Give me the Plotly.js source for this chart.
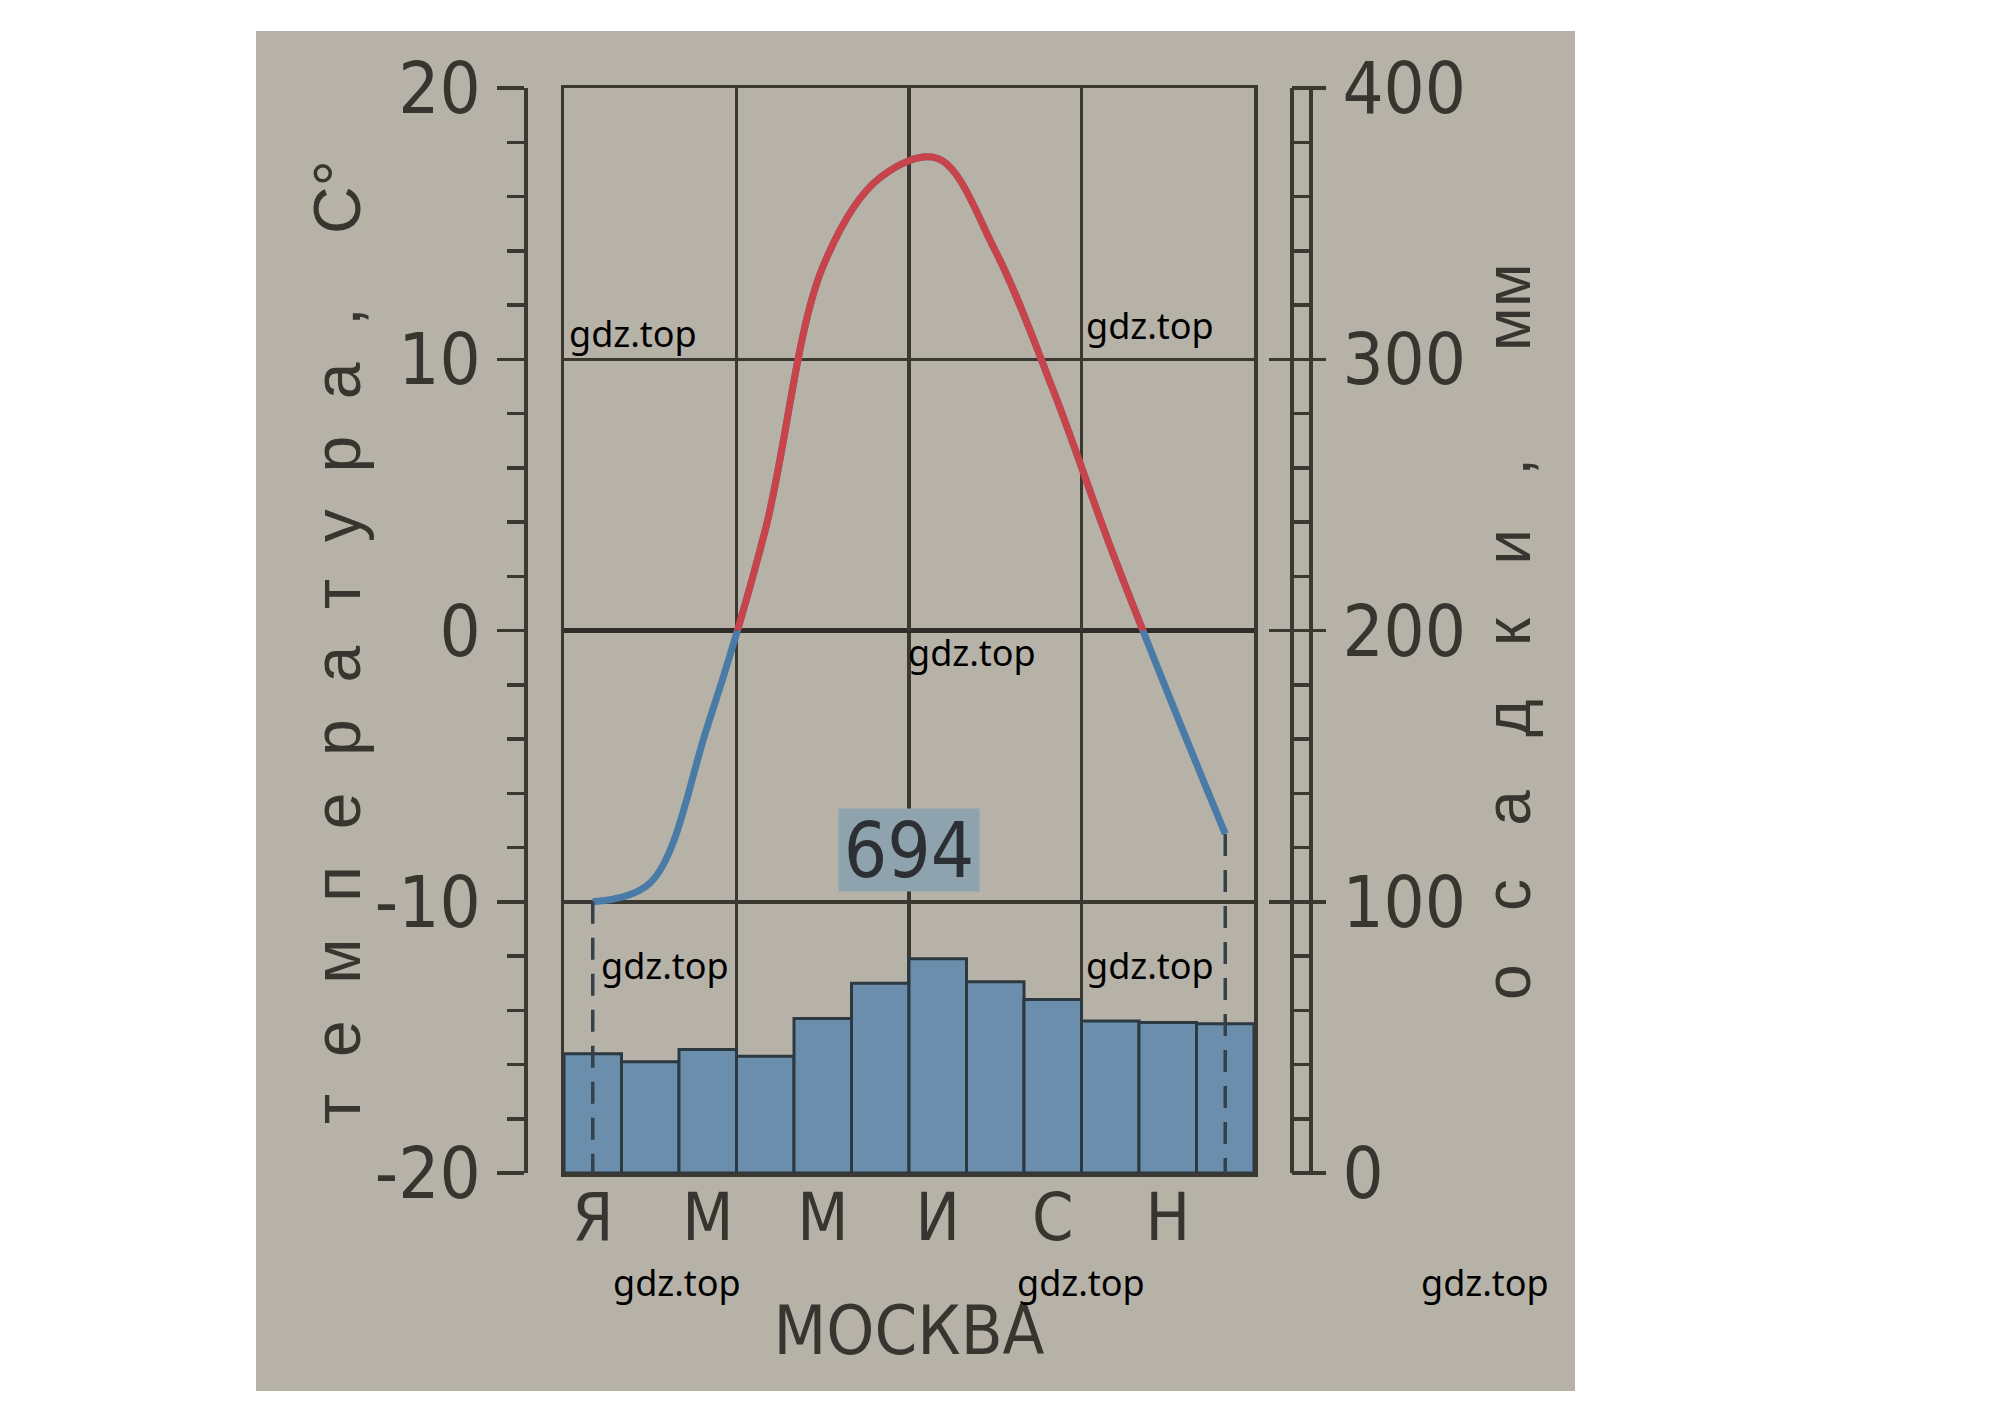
<!DOCTYPE html>
<html>
<head>
<meta charset="utf-8">
<script src="https://cdn.plot.ly/plotly-3.0.1.min.js"></script>
<style>html,body{margin:0;padding:0;background:#fff;}#chart{width:2014px;height:1420px;}</style>
</head>
<body>
<div id="chart"></div>
<script>
// ---- data ----
const months = [1, 2, 3, 4, 5, 6, 7, 8, 9, 10, 11, 12];
const temperature = [-10, -9.3, -3.5, 3.7, 13.4, 16.7, 17.4, 14.0, 8.9, 3.1, -2.3, -7.5];   // °C
const precipitation = [44, 41, 45.5, 43, 57, 70, 79, 70.5, 64, 56, 55.5, 55];              // mm
const monthTickPos = [1, 3, 5, 7, 9, 11];
const monthTickText = ['Я', 'М', 'М', 'И', 'С', 'Н'];
const tempTicks = [-20, -10, 0, 10, 20];
const tempTickText = ['-20', '-10', '0', '10', '20'];
const precipTicks = [0, 100, 200, 300, 400];
const precipTickText = ['0', '100', '200', '300', '400'];
const annualTotal = '694';
const cityName = 'МОСКВА';
const tempTitleWord = 'температура,';
const tempUnit = 'С°';
const precipTitleWord = 'осадки,';
const precipUnit = 'мм';
const watermark = 'gdz.top';

// ---- styling ----
const W = 2014, H = 1420;
const M = {l: 525, r: 684, t: 88, b: 247};
const PW = W - M.l - M.r, PH = H - M.t - M.b;
const px = (X) => (X - M.l) / PW;
const py = (Y) => (H - M.b - Y) / PH;

const INK = '#37352f';
const LINE = '#3b3832';
const LW = 3.5;
const NARROW = 'DejaVu Sans Condensed, Liberation Sans Narrow, Liberation Sans, sans-serif';
const spaced = (w, n) => { const s = '\u00a0'.repeat(n); return w.split('').join(s) + s + s; };
const tempTitle = spaced(tempTitleWord, 2) + tempUnit;
const precipTitle = spaced(precipTitleWord, 3) + precipUnit;

const tRange = [tempTicks[0], tempTicks[tempTicks.length - 1]];
const pRange = [precipTicks[0], precipTicks[precipTicks.length - 1]];
const xRange = [months[0] - 0.5, months[months.length - 1] + 0.5];

const traces = [
  { // precipitation bars
    type: 'bar', x: months, y: precipitation, xaxis: 'x', yaxis: 'y2',
    marker: {color: '#6a8eac', line: {color: '#2c3940', width: 3}},
    hoverinfo: 'skip', showlegend: false
  },
  // empty traces so the label axis and the second ladder rail get drawn
  {type: 'scatter', mode: 'lines', x: [null], y: [null], xaxis: 'x', yaxis: 'y3', hoverinfo: 'skip', showlegend: false},
  {type: 'scatter', mode: 'lines', x: [null], y: [null], xaxis: 'x', yaxis: 'y5', hoverinfo: 'skip', showlegend: false},
  { // temperature, blue (whole curve; below zero remains visible)
    type: 'scatter', mode: 'lines', x: months, y: temperature, xaxis: 'x', yaxis: 'y',
    line: {color: '#4a7ba6', width: 7, shape: 'spline', smoothing: 1},
    hoverinfo: 'skip', showlegend: false
  },
  { // temperature, red (same curve, clipped to the >0 half by its subplot)
    type: 'scatter', mode: 'lines', x: months, y: temperature, xaxis: 'x', yaxis: 'y4',
    line: {color: '#c9444a', width: 7, shape: 'spline', smoothing: 1},
    hoverinfo: 'skip', showlegend: false
  },
  { // dashed drop line, first month
    type: 'scatter', mode: 'lines', x: [months[0], months[0]], y: [temperature[0], tRange[0]],
    xaxis: 'x', yaxis: 'y6', line: {color: '#34404a', width: 3.5, dash: '22px,14px'},
    hoverinfo: 'skip', showlegend: false
  },
  { // dashed drop line, last month
    type: 'scatter', mode: 'lines', x: [months[11], months[11]], y: [temperature[11], tRange[0]],
    xaxis: 'x', yaxis: 'y6', line: {color: '#34404a', width: 3.5, dash: '22px,14px'},
    hoverinfo: 'skip', showlegend: false
  }
];

const wmPos = [[633, 333], [1150, 325], [972, 652], [665, 965], [1150, 965], [677, 1282], [1081, 1282], [1485, 1282]];

const annotations = [
  {
    x: 6.5, y: -8.1, xref: 'x', yref: 'y', text: annualTotal, showarrow: false,
    width: 140, height: 82, bgcolor: '#8fa3ae', borderpad: 0,
    font: {family: NARROW, size: 76, color: '#2c3034'}
  },
  { // temperature axis title
    x: px(337), y: py(642), xref: 'paper', yref: 'paper', text: tempTitle, showarrow: false,
    textangle: -90, xanchor: 'center', yanchor: 'middle',
    font: {family: 'Liberation Sans, sans-serif', size: 66, color: INK}
  },
  { // precipitation axis title
    x: px(1508), y: py(632), xref: 'paper', yref: 'paper', text: precipTitle, showarrow: false,
    textangle: -90, xanchor: 'center', yanchor: 'middle',
    font: {family: 'Liberation Sans, sans-serif', size: 64, color: INK}
  },
  ...wmPos.map(([X, Y]) => ({
    x: px(X), y: py(Y), xref: 'paper', yref: 'paper', text: watermark, showarrow: false,
    xanchor: 'center', yanchor: 'middle',
    font: {family: 'Noto Sans, Open Sans, sans-serif', size: 36, color: '#000'}
  }))
];

const layout = {
  width: W, height: H, autosize: false,
  margin: {l: M.l, r: M.r, t: M.t, b: M.b, pad: 0},
  paper_bgcolor: '#ffffff', plot_bgcolor: 'rgba(0,0,0,0)',
  showlegend: false, hovermode: false, bargap: 0,
  shapes: [{
    type: 'rect', xref: 'paper', yref: 'paper', layer: 'below',
    x0: px(256), x1: px(1575), y0: py(1391), y1: py(31),
    fillcolor: '#b7b2a7', line: {width: 0}
  }],
  xaxis: {
    domain: [px(564), px(1254)], range: xRange, anchor: 'y',
    showline: true, mirror: true, linecolor: LINE, linewidth: LW,
    tickmode: 'array', tickvals: monthTickPos, ticktext: monthTickText, ticks: '',
    tickfont: {family: NARROW, size: 66, color: INK}, ticklabelstandoff: -16,
    showgrid: false, zeroline: false,
    minor: {tickmode: 'array', tickvals: [3.5, 6.5, 9.5], showgrid: true, gridcolor: LINE, gridwidth: LW, ticks: ''},
    title: {text: cityName, font: {family: NARROW, size: 68, color: INK}, standoff: 52}
  },
  yaxis: { // temperature scale on the left
    domain: [0, 1], range: tRange, anchor: 'free', position: 0, side: 'left',
    showline: true, linecolor: LINE, linewidth: LW,
    tickmode: 'array', tickvals: tempTicks, ticktext: tempTickText,
    ticks: 'outside', ticklen: 27, tickwidth: LW, tickcolor: LINE,
    minor: {dtick: 2, ticks: 'outside', ticklen: 17, tickwidth: LW, tickcolor: LINE, showgrid: false},
    tickfont: {family: NARROW, size: 72, color: INK}, ticklabelstandoff: 2,
    showgrid: true, gridcolor: LINE, gridwidth: LW,
    zeroline: true, zerolinecolor: '#2f2c27', zerolinewidth: 5.5
  },
  yaxis2: { // precipitation (bars) + ladder first rail
    overlaying: 'y', range: pRange, anchor: 'free', position: px(1291), side: 'right',
    showline: true, linecolor: LINE, linewidth: LW,
    tickmode: 'array', tickvals: precipTicks, ticks: 'inside', ticklen: 21, tickwidth: LW, tickcolor: LINE,
    minor: {dtick: 20, ticks: 'outside', ticklen: 19, tickwidth: LW, tickcolor: LINE, showgrid: false},
    showticklabels: false, showgrid: false, zeroline: false
  },
  yaxis3: { // precipitation labels
    overlaying: 'y', range: pRange, anchor: 'free', position: px(1291), side: 'right',
    showline: false, tickmode: 'array', tickvals: precipTicks, ticktext: precipTickText,
    ticks: 'outside', ticklen: 34, tickwidth: LW, tickcolor: LINE,
    tickfont: {family: NARROW, size: 72, color: INK}, ticklabelstandoff: 2,
    showgrid: false, zeroline: false
  },
  yaxis4: { // upper half (t > 0) for the red part of the curve
    domain: [0.5, 1], range: [0, tRange[1]], anchor: 'x', visible: false, fixedrange: true
  },
  yaxis5: { // ladder second rail
    overlaying: 'y', range: pRange, anchor: 'free', position: px(1310), side: 'right',
    showline: true, linecolor: LINE, linewidth: LW, ticks: '', showticklabels: false,
    showgrid: false, zeroline: false
  },
  yaxis6: { // plot frame left/right
    overlaying: 'y', range: tRange, anchor: 'x', side: 'left',
    showline: true, mirror: true, linecolor: LINE, linewidth: LW, ticks: '', showticklabels: false,
    showgrid: false, zeroline: false
  },
  annotations: annotations
};

Plotly.newPlot('chart', traces, layout, {staticPlot: true, displayModeBar: false});
</script>
</body>
</html>
